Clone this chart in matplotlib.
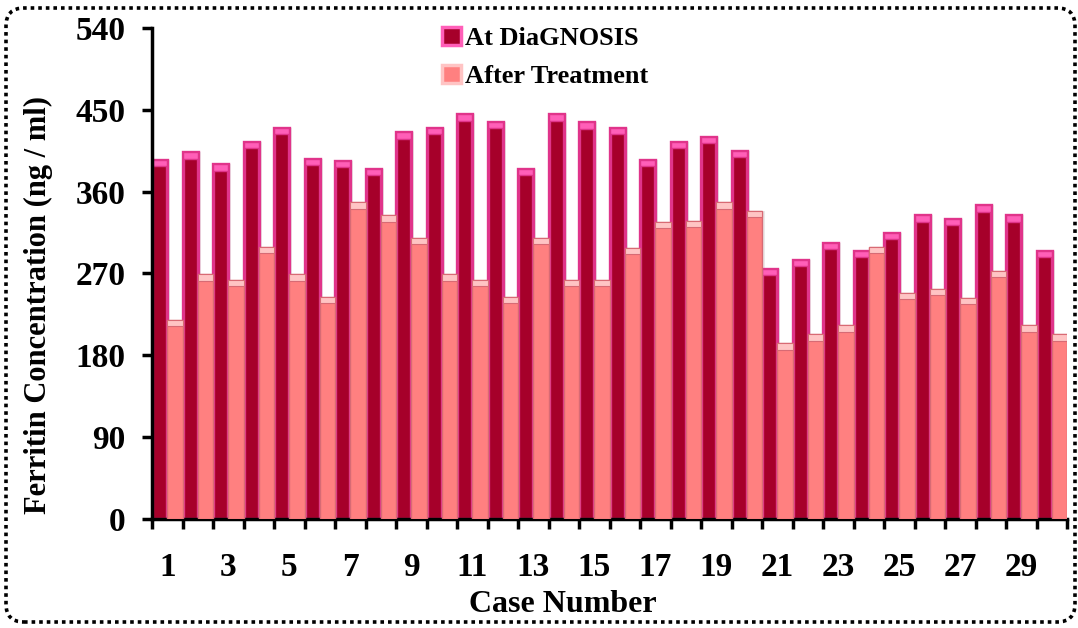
import numpy as np
import matplotlib
matplotlib.use("Agg")
from matplotlib import pyplot as plt
from matplotlib.patches import FancyBboxPatch, Patch

plt.rcParams['font.family'] = ['Liberation Serif', 'DejaVu Serif']
plt.rcParams['font.weight'] = 'bold'

cases = np.arange(1, 31)
at_diagnosis = [395, 403, 390, 415, 430, 396, 394, 385, 425, 430,
                445, 437, 385, 445, 436, 430, 395, 415, 420, 405,
                275, 285, 304, 295, 315, 334, 330, 345, 334, 295]
after_treatment = [219, 269, 263, 299, 269, 244, 348, 334, 309, 269,
                   263, 244, 309, 263, 263, 298, 327, 328, 348, 339,
                   193, 203, 213, 299, 249, 253, 243, 273, 213, 203]
yticks = [0, 90, 180, 270, 360, 450, 540]

diag_col = '#A6002A'
diag_edge = '#E0348A'
diag_cap = '#FF5FB8'
treat_col = '#FF8080'
treat_edge = '#D86A74'
treat_cap = '#FFC4C4'

fig = plt.figure(figsize=(10.78, 6.28), dpi=100)
ax = fig.add_axes([0.141, 0.1736, 0.849, 0.782])

x = np.arange(len(cases))
w = 0.5
cap = 7

# faint shadow to the right of every bar
ax.bar(x - w/2 + 0.09, at_diagnosis, w, color='#bbbbbb', alpha=0.3, zorder=1)
ax.bar(x + w/2 + 0.09, after_treatment, w, color='#bbbbbb', alpha=0.3, zorder=1)

ax.bar(x - w/2, at_diagnosis, w, color=diag_col, edgecolor=diag_edge, linewidth=2.4, zorder=2)
ax.bar(x + w/2, after_treatment, w, color=treat_col, edgecolor=treat_edge, linewidth=1.0, zorder=3)
# bevel caps on top
ax.bar(x - w/2, cap, w, bottom=np.array(at_diagnosis) - cap, color=diag_cap, edgecolor=diag_edge, linewidth=1.0, zorder=2)
ax.bar(x + w/2, cap, w, bottom=np.array(after_treatment) - cap, color=treat_cap, edgecolor=treat_edge, linewidth=0.8, zorder=3)

ax.set_xlim(-0.5, len(cases) - 0.5)
ax.set_ylim(0, 540)
ax.set_yticks(yticks)
ax.set_yticklabels([str(v) for v in yticks])
ax.set_xticks(x[::2])
ax.set_xticklabels([str(c) for c in cases[::2]])
ax.set_xticks(np.arange(-0.5, len(cases), 1.0), minor=True)

ax.tick_params(axis='y', direction='out', length=7, width=2.5, labelsize=24, pad=12)
ax.tick_params(axis='x', which='major', length=0, labelsize=24, pad=24)
ax.tick_params(axis='x', which='minor', direction='out', length=7, width=2.5)
for lab in ax.get_xticklabels() + ax.get_yticklabels():
    lab.set_fontweight('bold')

for s in ['top', 'right']:
    ax.spines[s].set_visible(False)
for s in ['left', 'bottom']:
    ax.spines[s].set_linewidth(2.5)

ax.set_ylabel('Ferritin Concentration (ng / ml)', fontsize=22, fontweight='bold', va='center')
ax.yaxis.set_label_coords(-0.1246, 0.436)
ax.set_xlabel('Case Number', fontsize=23, fontweight='bold', va='center')
ax.xaxis.set_label_coords(0.449, -0.175)

handles = [Patch(facecolor=diag_col, edgecolor=diag_cap, linewidth=2.5),
           Patch(facecolor=treat_col, edgecolor=treat_cap, linewidth=2.5)]
ax.legend(handles, ['At DiaGNOSIS', 'After Treatment'], loc='upper left',
          bbox_to_anchor=(0.3, 1.034), frameon=False, prop={'size': 19, 'weight': 'bold'},
          handlelength=0.7, handleheight=0.7, handletextpad=0.15, labelspacing=0.55,
          borderaxespad=0.2)

border = FancyBboxPatch((0.06, 0.06), 10.69, 6.14, boxstyle='round,pad=0,rounding_size=0.18',
                        transform=fig.dpi_scale_trans, fill=False, edgecolor='black',
                        linewidth=2.6, linestyle=(0, (1, 1.1)), clip_on=False)
fig.patches.append(border)

fig.savefig('out.png', dpi=100)
